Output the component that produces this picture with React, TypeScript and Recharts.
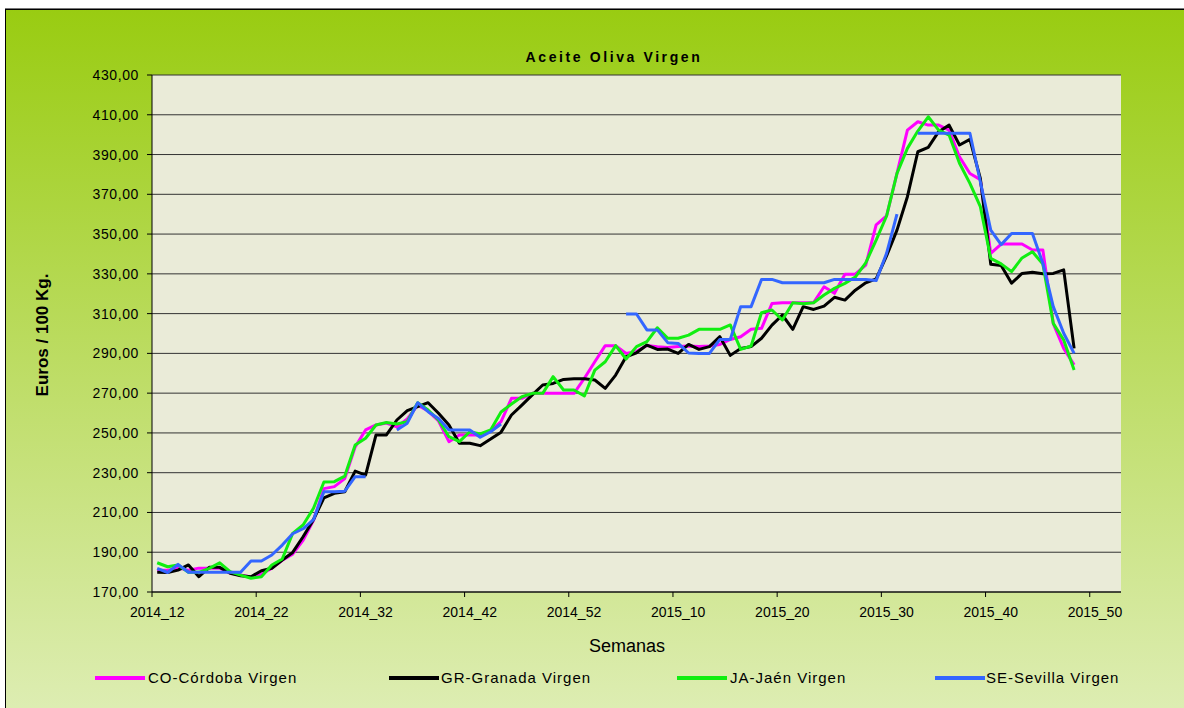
import React from 'react';
import { LineChart, Line, XAxis, YAxis, CartesianGrid, Legend, Label } from 'recharts';

// Categories: weeks 2014_12 ... 2015_52
const weeks = [
  '2014_12', '2014_13', '2014_14', '2014_15', '2014_16', '2014_17', '2014_18', '2014_19', '2014_20', '2014_21',
  '2014_22', '2014_23', '2014_24', '2014_25', '2014_26', '2014_27', '2014_28', '2014_29', '2014_30', '2014_31',
  '2014_32', '2014_33', '2014_34', '2014_35', '2014_36', '2014_37', '2014_38', '2014_39', '2014_40', '2014_41',
  '2014_42', '2014_43', '2014_44', '2014_45', '2014_46', '2014_47', '2014_48', '2014_49', '2014_50', '2014_51',
  '2014_52', '2015_01', '2015_02', '2015_03', '2015_04', '2015_05', '2015_06', '2015_07', '2015_08', '2015_09',
  '2015_10', '2015_11', '2015_12', '2015_13', '2015_14', '2015_15', '2015_16', '2015_17', '2015_18', '2015_19',
  '2015_20', '2015_21', '2015_22', '2015_23', '2015_24', '2015_25', '2015_26', '2015_27', '2015_28', '2015_29',
  '2015_30', '2015_31', '2015_32', '2015_33', '2015_34', '2015_35', '2015_36', '2015_37', '2015_38', '2015_39',
  '2015_40', '2015_41', '2015_42', '2015_43', '2015_44', '2015_45', '2015_46', '2015_47', '2015_48', '2015_49',
  '2015_50', '2015_51', '2015_52',
];

const cordoba = [
  181, 181, 182, 181, 182, 182, 182, 179.5, 178.5, 177.5,
  179, 182, 186, 189, 196, 206, 222, 223, 227, 243,
  251.5, 254, 255, 253, 257, 264, 261, 256, 245.6, 249,
  249, 249, 251, 255.7, 267.4, 267.4, 269.9, 269.9, 269.9, 269.9,
  269.9, 277.5, 285.8, 293.9, 293.9, 290, 291, 294, 293.4, 293,
  293.5, 293.7, 293.5, 293.7, 294.5, 297, 298.4, 302.1, 302.6, 315.1,
  315.5, 315.5, 315.5, 315.5, 323.5, 320.2, 329.8, 329.8, 334.4, 354.6,
  359.1, 380.5, 402.3, 406.5, 404.8, 404.8, 402.3, 388.8, 380.5, 377.4,
  340.3, 345, 345, 345, 342, 342, 305, 292.5, 284.2,
];

const granada = [
  179.9, 179.8, 181, 183.6, 177.7, 182.4, 182.4, 179.4, 178.2, 177.7,
  180.7, 181.9, 186.1, 189.9, 197.8, 206.4, 217.3, 219.6, 220.4, 230.8,
  228.8, 249, 249, 256.5, 261.2, 263.2, 265.2, 259.9, 254, 244.8,
  244.8, 243.6, 246.9, 250.4, 259, 264, 269.1, 274.1, 274.9, 276.9,
  277.2, 277.2, 276.6, 272.4, 279.1, 288.3, 290.3, 294.2, 292, 292.2,
  290, 294.5, 292, 293.4, 298.4, 289, 292.5, 293.4, 297.6, 304.2,
  309.3, 302.1, 313.5, 312.1, 313.8, 318.2, 316.8, 321.8, 325.5, 327.5,
  339, 352, 368.8, 391.4, 393.6, 401.5, 404.8, 394.8, 397.6, 378,
  334.8, 334.2, 325.3, 330.2, 330.8, 330.1, 330.2, 332, 292.5,
];

const jaen = [
  184.7, 182.7, 183.6, 179.9, 179.9, 181.9, 184.7, 180.2, 178.5, 176.9,
  177.7, 183.6, 186.6, 199.5, 203.7, 212.1, 225.3, 225.5, 228.3, 243.9,
  247.3, 254, 255.2, 254.5, 255.7, 265.2, 261.5, 256.5, 248.1, 245.6,
  250.6, 249.5, 251.5, 260.5, 264.5, 268.2, 269.9, 269.9, 278.3, 271.6,
  271.6, 268.6, 281.6, 285.8, 293.9, 287.2, 293.4, 295.9, 302.9, 297.6,
  297.6, 299.2, 302.1, 302.1, 302.1, 304.3, 292, 293.7, 310.5, 311.8,
  306.8, 315.5, 315, 315.5, 319.4, 322.7, 325.2, 328.4, 335.5, 347,
  359.1, 380.5, 393.1, 401.8, 409, 402.3, 399.8, 385.6, 375.5, 363.8,
  337.8, 335, 331.1, 338, 341.1, 335, 305.1, 296.7, 281.6,
];

const sevilla = [
  181.9, 179.8, 183.9, 179.9, 179.9, 179.9, 179.9, 179.9, 179.9, 185.6,
  185.6, 188.6, 193.6, 199.3, 201.8, 206.4, 220.4, 220.4, 220.7, 228,
  228, null, null, 251.5, 254.9, 265.2, 260.7, 257.3, 251.5, 251.5,
  251.5, 247.8, 250.6, 254.5, null, null, null, null, null, null,
  null, null, null, null, null, 309.8, 309.8, 301.8, 301.8, 295.4,
  295, 290.2, 290, 290, 297, 297, 313.5, 313.5, 327.2, 327.2,
  325.5, 325.5, 325.5, 325.5, 325.5, 327.2, 327.2, 327.2, 327.2, 326.6,
  340.3, 360, null, 400.7, 400.7, 400.7, 400.7, 400.7, 400.7, 376.3,
  352, 344.7, 350.3, 350.3, 350.3, 335.3, 313.5, 300.1, 290,
];

const xTickIndex = [0, 10, 20, 30, 40, 50, 60, 70, 80, 90];
const yTicks = [170, 190, 210, 230, 250, 270, 290, 310, 330, 350, 370, 390, 410, 430];

const series = [
  { key: 'co', name: 'CO-Córdoba Virgen', color: '#ff00ff' },
  { key: 'gr', name: 'GR-Granada Virgen', color: '#000000' },
  { key: 'ja', name: 'JA-Jaén Virgen', color: '#11ee11' },
  { key: 'se', name: 'SE-Sevilla Virgen', color: '#3366ff' },
];

const data = weeks.map((w, i) => ({
  idx: i,
  week: w,
  co: cordoba[i] ?? null,
  gr: granada[i] ?? null,
  ja: jaen[i] ?? null,
  se: sevilla[i] ?? null,
}));

const FONT = 'Arial, "Liberation Sans", Helvetica, sans-serif';
const W = 1179;
const H = 700;
const PLOT_LEFT = 147;
const PLOT_RIGHT = 1116;
const PLOT_BOTTOM = 584;
const HALF_BAND = (PLOT_RIGHT - PLOT_LEFT) / weeks.length / 2;

const XTick = (props: any) => {
  const { x, payload } = props;
  return (
    <g>
      <line x1={x - HALF_BAND} x2={x - HALF_BAND} y1={PLOT_BOTTOM} y2={PLOT_BOTTOM + 5} stroke="#000" strokeWidth={1} />
      <text x={x} y={609} textAnchor="middle" fontSize={14} fontFamily={FONT} fill="#000">
        {weeks[payload.value]}
      </text>
    </g>
  );
};

const legendPos = [
  { line: 90, text: 143 },
  { line: 384, text: 436 },
  { line: 672, text: 725 },
  { line: 930, text: 981 },
];

const renderLegend = () => (
  <div style={{ position: 'relative', width: W, height: 24, fontFamily: FONT }}>
    {series.map((s, i) => (
      <React.Fragment key={s.key}>
        <div
          style={{
            position: 'absolute',
            left: legendPos[i].line,
            top: 8,
            width: 50,
            height: 4,
            background: s.color,
          }}
        />
        <div
          style={{
            position: 'absolute',
            left: legendPos[i].text,
            top: 0,
            fontSize: 15,
            lineHeight: '20px',
            letterSpacing: 1,
            color: '#000',
            whiteSpace: 'nowrap',
          }}
        >
          {s.name}
        </div>
      </React.Fragment>
    ))}
  </div>
);

export default function App() {
  return (
    <div
      style={{
        position: 'absolute',
        left: 5,
        top: 8,
        width: W,
        height: H,
        background: 'linear-gradient(180deg, #99cc11 0%, #bcdc62 50%, #ddedb2 100%)',
        boxShadow: 'inset 0 1px 0 #777, inset 0 2px 0 #000, inset 1px 0 0 #000',
        overflow: 'hidden',
      }}
    >
      <div
        style={{
          position: 'absolute',
          left: 459,
          top: 41,
          width: 300,
          textAlign: 'center',
          fontFamily: FONT,
          fontWeight: 'bold',
          fontSize: 14,
          lineHeight: '16px',
          letterSpacing: 2.6,
          color: '#000',
        }}
      >
        Aceite Oliva Virgen
      </div>
      <LineChart
        width={W}
        height={H}
        data={data}
        margin={{ top: 67, right: 63, left: 77, bottom: 86 }}
        style={{ position: 'absolute', left: 0, top: 0 }}
      >
        <CartesianGrid vertical={false} stroke="#333" strokeWidth={1} fill="#eaebd8" />
        <XAxis
          type="number"
          dataKey="idx"
          domain={[-0.5, 92.5]}
          ticks={xTickIndex}
          interval={0}
          tick={<XTick />}
          tickLine={false}
          axisLine={{ stroke: '#000', strokeWidth: 1 }}
          height={30}
        >
          <Label
            content={() => (
              <text x={622} y={644} textAnchor="middle" fontSize={18} fontFamily={FONT} fill="#000">
                Semanas
              </text>
            )}
          />
        </XAxis>
        <YAxis
          type="number"
          domain={[170, 430]}
          ticks={yTicks}
          interval={0}
          width={70}
          tickSize={5}
          tickMargin={8}
          tickLine={{ stroke: '#000' }}
          axisLine={{ stroke: '#000', strokeWidth: 1 }}
          tick={{ fontSize: 14, fontFamily: FONT, fill: '#000', letterSpacing: 0.6 }}
          tickFormatter={(v: number) => v.toFixed(2).replace('.', ',')}
        >
          <Label
            content={() => (
              <text
                x={43}
                y={327}
                textAnchor="middle"
                fontSize={17}
                fontWeight="bold"
                fontFamily={FONT}
                fill="#000"
                transform="rotate(-90 43 327)"
              >
                Euros / 100 Kg.
              </text>
            )}
          />
        </YAxis>
        {series.map((s) => (
          <Line
            key={s.key}
            type="linear"
            dataKey={s.key}
            name={s.name}
            stroke={s.color}
            strokeWidth={3}
            strokeLinejoin="round"
            dot={false}
            activeDot={false}
            connectNulls={false}
            isAnimationActive={false}
          />
        ))}
        <Legend
          layout="horizontal"
          verticalAlign="middle"
          align="center"
          wrapperStyle={{ left: 0, top: 660, width: W, height: 24 }}
          content={renderLegend}
        />
      </LineChart>
    </div>
  );
}
